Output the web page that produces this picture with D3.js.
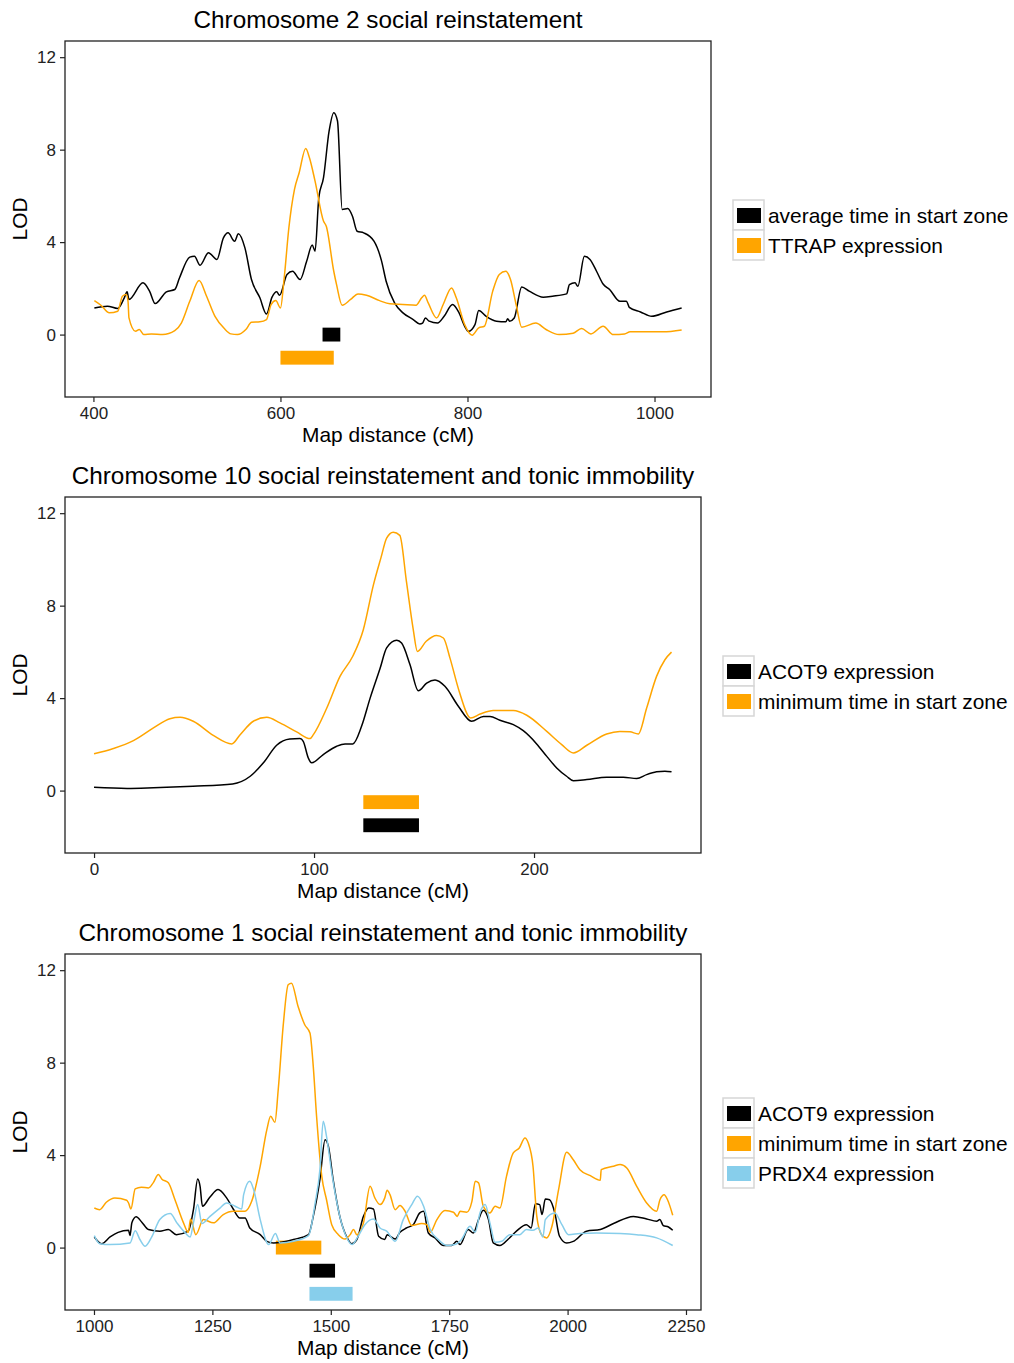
<!DOCTYPE html>
<html>
<head>
<meta charset="utf-8">
<script src="https://d3js.org/d3.v7.min.js"></script>
<style>
  body { margin: 0; background: #fff; }
  svg { display: block; font-family: "Liberation Sans", Arial, sans-serif; }
</style>
</head>
<body>
<div id="chart"></div>
<script>
// Chromosome 2 series: [cM, LOD]
var chr2StartZone = [[401,1.15],[415,1.23],[426,1.13],[433,1.59],[436,1.85],[438,1.52],[453,2.24],[460,1.88],[466,1.34],[478,1.85],[487,1.95],[492,2.45],[503,3.35],[508,3.39],[514,3.0],[523,3.54],[532,3.25],[539,4.18],[544,4.4],[551,4.04],[555,4.36],[562,3.75],[569,2.38],[578,1.59],[585,0.89],[591,1.62],[596,1.85],[599,1.7],[607,2.6],[613,2.74],[621,2.38],[628,3.17],[634,3.87],[637,3.61],[641,5.92],[646,6.78],[652,8.8],[657,9.6],[661,9.24],[666,5.41],[672,5.45],[677,5.12],[682,4.47],[689,4.4],[700,4.04],[708,3.2],[713,2.31],[722,1.37],[731,0.94],[742,0.65],[749,0.46],[752,0.5],[755,0.72],[759,0.58],[768,0.5],[775,0.79],[784,1.3],[791,0.94],[797,0.36],[801,0.14],[808,0.43],[812,1.04],[820,0.79],[831,0.58],[841,0.55],[843,0.69],[845,0.58],[850,0.72],[858,2.06],[866,1.88],[881,1.62],[891,1.66],[906,1.76],[909,2.16],[915,2.24],[918,2.09],[925,3.39],[931,3.25],[938,2.74],[945,2.19],[952,1.95],[963,1.44],[970,1.44],[973,1.18],[985,0.98],[997,0.79],[1013,0.98],[1029,1.15]];
var chr2Ttrap = [[401,1.47],[408,1.27],[417,0.94],[426,1.01],[431,1.66],[435,1.73],[437,1.44],[438,0.72],[445,0.14],[449,0.22],[454,0.0],[462,0.03],[474,0],[487,0.17],[494,0.5],[503,1.44],[513,2.34],[521,1.66],[530,0.79],[540,0.26],[547,0.03],[554,0],[563,0.22],[569,0.53],[578,0.55],[585,0.65],[590,1.3],[595,1.47],[600,1.15],[604,2.45],[609,4.62],[615,6.28],[620,7.0],[627,8.05],[631,7.65],[637,6.64],[646,4.91],[649,4.69],[657,2.74],[660,2.16],[666,1.27],[675,1.52],[683,1.76],[692,1.7],[706,1.47],[717,1.33],[731,1.3],[745,1.27],[751,1.59],[754,1.7],[758,1.37],[767,0.72],[774,1.3],[783,2.02],[788,1.59],[797,0.43],[805,-0.03],[812,0.29],[818,0.36],[827,1.88],[834,2.6],[841,2.74],[846,2.38],[852,1.3],[858,0.32],[873,0.5],[884,0.22],[898,0],[913,0.06],[922,0.26],[932,0.03],[945,0.36],[956,0],[968,0.03],[974,0.12],[1009,0.12],[1029,0.2]];

// Chromosome 10 series
var chr10Acot9 = [[0,0.14],[15,0.09],[27,0.12],[45,0.19],[63,0.29],[71,0.62],[77,1.2],[83,1.96],[89,2.23],[93.6,2.25],[95.1,2.13],[97.4,1.41],[98.9,1.2],[104.2,1.56],[110.3,1.92],[114.1,2.02],[117.6,2.02],[121.6,2.78],[125.5,4.0],[130,5.28],[133,6.17],[137.6,6.5],[139.8,6.38],[143.6,5.45],[147.4,4.32],[151.2,4.65],[155,4.78],[159.5,4.51],[165.6,3.65],[171.6,3.0],[177,3.21],[180,3.21],[184.5,3.04],[190.6,2.85],[195.1,2.59],[201.2,2.02],[205.8,1.48],[210.3,0.98],[214.8,0.62],[217.9,0.43],[224,0.48],[233,0.58],[240.6,0.58],[246.7,0.52],[251.2,0.69],[255.7,0.81],[259.5,0.84],[262.5,0.81]];
var chr10MinTime = [[0,1.59],[8.8,1.82],[17.9,2.16],[27,2.71],[34.5,3.11],[39.1,3.17],[45.1,3.0],[54.2,2.39],[62.6,2.02],[66.4,2.42],[72.4,3.0],[78.5,3.17],[84.5,2.93],[92.1,2.54],[98.2,2.25],[99.7,2.42],[105.8,3.57],[111.8,4.94],[117.6,5.81],[122.4,6.96],[127,8.9],[130.5,10.1],[133,10.92],[136,11.18],[139,11.04],[142,9.05],[145,7.03],[147,6.02],[151,6.46],[155.7,6.71],[158.8,6.6],[161.8,5.73],[166,4.29],[171.2,3.14],[175.5,3.31],[181.5,3.46],[190.6,3.46],[196.7,3.26],[205.8,2.56],[212.6,1.99],[217.9,1.63],[224,1.96],[233,2.45],[239,2.56],[243.6,2.54],[247.4,2.45],[251.2,3.57],[255.7,4.94],[259.5,5.66],[262.5,5.99]];

// Chromosome 1 series
var chr1Acot9 = [[1000.7,0.46],[1016,0.17],[1034,0.46],[1051,0.66],[1073,0.75],[1076,0.52],[1080,1.07],[1089,1.33],[1101,1.1],[1115,0.78],[1139,0.71],[1157,0.78],[1174,0.56],[1199,0.71],[1210,1.64],[1219,2.97],[1224,2.65],[1229,1.79],[1245,2.19],[1262,2.51],[1280,2.15],[1294,1.67],[1308,1.28],[1319,1.28],[1329,0.85],[1351,0.56],[1365,0.27],[1379,0.2],[1421,0.35],[1453,0.56],[1463,1.35],[1477,2.94],[1488,4.67],[1495,4.38],[1505,2.94],[1519,1.35],[1533,0.49],[1544,0.17],[1555,0.35],[1569,1.35],[1580,1.71],[1590,1.67],[1601,0.49],[1614,0.35],[1619,0.56],[1636,0.37],[1646,0.66],[1660,0.85],[1674,0.99],[1688,1.5],[1696,1.57],[1706,0.63],[1720,0.42],[1738,0.09],[1755,0.09],[1766,0.27],[1773,0.13],[1790,0.78],[1801,0.63],[1812,1.21],[1822,1.61],[1833,1.21],[1843,0.2],[1857,0.09],[1875,0.37],[1892,0.71],[1913,0.99],[1923,0.85],[1932,1.9],[1941,1.86],[1946,1.43],[1953,2.1],[1962,2.07],[1973,1.5],[1983,0.49],[1998,0.2],[2012,0.27],[2040,0.71],[2069,0.78],[2097,1.04],[2139,1.35],[2167,1.24],[2188,1.14],[2195,1.21],[2202,0.95],[2213,0.89],[2222,0.75]];
var chr1MinTime = [[1000.7,1.71],[1012,1.64],[1026,1.96],[1044,2.15],[1069,2.05],[1073,1.93],[1078,1.67],[1087,2.54],[1100,2.61],[1115,2.58],[1125,2.8],[1136,3.16],[1143,2.97],[1157,2.8],[1171,2.07],[1189,1.07],[1199,0.66],[1204,1.24],[1215,0.56],[1231,1.21],[1252,1.07],[1273,1.43],[1294,1.57],[1319,1.57],[1333,2.0],[1351,3.52],[1365,5.1],[1373,5.68],[1382,5.42],[1389,6.83],[1400,9.71],[1410,11.37],[1417,11.44],[1431,10.43],[1445,9.64],[1456,9.28],[1463,7.84],[1470,5.68],[1481,3.08],[1491,2.07],[1502,0.99],[1516,0.56],[1530,0.37],[1541,0.56],[1548,0.78],[1555,0.56],[1569,1.07],[1583,2.65],[1593,2.15],[1604,1.86],[1614,2.15],[1619,2.48],[1625,2.29],[1636,1.64],[1646,1.82],[1657,1.57],[1671,0.95],[1692,1.04],[1703,0.99],[1710,0.66],[1724,1.21],[1741,1.6],[1759,1.53],[1767,1.35],[1773,1.57],[1787,1.53],[1798,2.0],[1805,2.87],[1812,2.8],[1822,1.79],[1836,1.5],[1847,1.79],[1857,1.71],[1871,3.08],[1885,4.09],[1898,4.31],[1910,4.74],[1917,4.52],[1927,3.52],[1935,1.35],[1945,0.56],[1956,0.42],[1967,0.92],[1981,2.51],[1998,4.12],[2012,3.8],[2026,3.37],[2048,3.11],[2069,2.91],[2071,3.37],[2097,3.52],[2111,3.59],[2125,3.44],[2146,2.65],[2167,1.93],[2188,1.57],[2195,2.07],[2204,2.29],[2211,2.07],[2222,1.4]];
var chr1Prdx4 = [[1000.7,0.52],[1012,0.17],[1034,0.13],[1076,0.2],[1087,0.73],[1097,0.35],[1108,0.06],[1122,0.46],[1139,1.21],[1161,1.47],[1175,1.07],[1193,0.63],[1203,0.46],[1210,1.07],[1219,1.86],[1228,1.04],[1245,1.35],[1266,1.71],[1280,1.93],[1298,1.79],[1312,1.67],[1316,2.29],[1329,2.87],[1337,2.51],[1351,1.21],[1369,0.13],[1383,0.61],[1393,0.2],[1421,0.27],[1453,0.52],[1467,1.93],[1477,3.37],[1484,5.46],[1491,4.81],[1502,3.23],[1519,1.35],[1533,0.46],[1545,0.13],[1557,0.46],[1572,0.99],[1590,1.24],[1604,0.85],[1618,0.71],[1636,0.27],[1653,1.21],[1671,1.86],[1683,2.22],[1696,1.79],[1710,0.78],[1727,0.35],[1745,0.09],[1762,0.13],[1776,0.35],[1794,0.92],[1805,0.66],[1815,1.5],[1826,1.86],[1836,1.07],[1847,0.23],[1861,0.27],[1878,0.56],[1899,0.56],[1913,0.78],[1927,0.75],[1938,0.85],[1948,0.46],[1953,1.21],[1973,1.5],[1988,0.99],[2002,0.56],[2026,0.61],[2061,0.63],[2111,0.61],[2146,0.56],[2188,0.42],[2222,0.09]];

// QTL interval bars: [start cM, end cM, LOD row, colour]
var chr2Bars = [[645,664,0,"black"],[600,657,-1,"orange"]];
var chr10Bars = [[122.4,147.7,-0.5,"orange"],[122.4,147.7,-1.5,"black"]];
var chr1Bars = [[1384,1480,0,"orange"],[1455,1509,-1,"black"],[1455,1546,-2,"skyblue"]];

var chr2Ticks = [400,600,800,1000];
var chr10Ticks = [0,100,200];
var chr1Ticks = [1000,1250,1500,1750,2000,2250];
var lodTicks = [0,4,8,12];

var chr2Legend = [["average time in start zone","black"],["TTRAP expression","orange"]];
var chr10Legend = [["ACOT9 expression","black"],["minimum time in start zone","orange"]];
var chr1Legend = [["ACOT9 expression","black"],["minimum time in start zone","orange"],["PRDX4 expression","skyblue"]];

function init(){
    var svg = d3.select("#chart")
                .append("svg")
                .attr("width", 1014)
                .attr("height", 1363);

    drawPanel(svg, {
        title: "Chromosome 2 social reinstatement",
        left: 65, right: 711, top: 41, bottom: 397,
        xDomain: [369.6, 1060.4], ticks: chr2Ticks,
        series: [[chr2StartZone,"black"],[chr2Ttrap,"orange"]],
        bars: chr2Bars,
        legend: chr2Legend, legendX: 733, legendY: 200, legendTextX: 768
    });
    drawPanel(svg, {
        title: "Chromosome 10 social reinstatement and tonic immobility",
        left: 65, right: 701, top: 497, bottom: 853,
        xDomain: [-13.2, 275.9], ticks: chr10Ticks,
        series: [[chr10Acot9,"black"],[chr10MinTime,"orange"]],
        bars: chr10Bars,
        legend: chr10Legend, legendX: 723, legendY: 656, legendTextX: 758
    });
    drawPanel(svg, {
        title: "Chromosome 1 social reinstatement and tonic immobility",
        left: 65, right: 701, top: 954, bottom: 1310,
        xDomain: [938.8, 2281.7], ticks: chr1Ticks,
        series: [[chr1Acot9,"black"],[chr1MinTime,"orange"],[chr1Prdx4,"skyblue"]],
        bars: chr1Bars,
        legend: chr1Legend, legendX: 723, legendY: 1098, legendTextX: 758
    });
}

function drawPanel(svg, p) {
    var x = d3.scaleLinear().domain(p.xDomain).range([p.left, p.right]);
    var y = d3.scaleLinear().domain([-2.7, 12.7]).range([p.bottom, p.top]);

    var g = svg.append("g");

    // interval bars
    g.selectAll("rect.bar")
        .data(p.bars)
        .enter()
        .append("rect")
        .attr("x", function(d) { return x(d[0]); })
        .attr("width", function(d) { return x(d[1]) - x(d[0]); })
        .attr("y", function(d) { return y(d[2] + 0.3); })
        .attr("height", function(d) { return y(d[2] - 0.3) - y(d[2] + 0.3); })
        .attr("fill", function(d) { return d[3]; });

    var line = d3.line()
        .x(function(d) { return x(d[0]); })
        .y(function(d) { return y(d[1]); })
        .curve(d3.curveMonotoneX);

    g.selectAll("path.lod")
        .data(p.series)
        .enter()
        .append("path")
        .attr("d", function(d) { return line(d[0]); })
        .attr("fill", "none")
        .attr("stroke", function(d) { return d[1]; })
        .attr("stroke-width", 1.5)
        .attr("stroke-linejoin", "round");

    // frame
    g.append("rect")
        .attr("x", p.left).attr("y", p.top)
        .attr("width", p.right - p.left).attr("height", p.bottom - p.top)
        .attr("fill", "none").attr("stroke", "#222").attr("stroke-width", 1.3);

    // axes
    var xAxis = d3.axisBottom(x).tickValues(p.ticks).tickFormat(d3.format("d"))
        .tickSize(5).tickPadding(5).tickSizeOuter(0);
    var gx = g.append("g").attr("transform", "translate(0," + p.bottom + ")").call(xAxis);
    var yAxis = d3.axisLeft(y).tickValues(lodTicks).tickFormat(d3.format("d"))
        .tickSize(5).tickPadding(4).tickSizeOuter(0);
    var gy = g.append("g").attr("transform", "translate(" + p.left + ",0)").call(yAxis);
    [gx, gy].forEach(function(a) {
        a.select(".domain").remove();
        a.selectAll("line").attr("stroke", "#222").attr("stroke-width", 1.2);
        a.selectAll("text").attr("fill", "#222").style("font-size", "17px")
            .style("font-family", "Liberation Sans, Arial, sans-serif");
    });

    var cx = (p.left + p.right) / 2;
    g.append("text")
        .attr("x", cx).attr("y", p.top - 13)
        .attr("text-anchor", "middle")
        .style("font-size", "24.3px")
        .text(p.title);
    g.append("text")
        .attr("x", cx).attr("y", p.bottom + 45)
        .attr("text-anchor", "middle")
        .style("font-size", "20.9px")
        .text("Map distance (cM)");
    g.append("text")
        .attr("transform", "translate(27," + ((p.top + p.bottom) / 2) + ") rotate(-90)")
        .attr("text-anchor", "middle")
        .style("font-size", "20.9px")
        .text("LOD");

    // legend
    var items = g.append("g").selectAll("g.item")
        .data(p.legend)
        .enter()
        .append("g")
        .attr("transform", function(d, i) { return "translate(" + p.legendX + "," + (p.legendY + i * 30) + ")"; });
    items.append("rect")
        .attr("x", 0).attr("y", 0).attr("width", 31).attr("height", 30)
        .attr("fill", "#fff").attr("stroke", "#d6d6d6").attr("stroke-width", 1.5);
    items.append("rect")
        .attr("x", 4).attr("y", 8).attr("width", 24).attr("height", 15)
        .attr("fill", function(d) { return d[1]; });
    items.append("text")
        .attr("x", p.legendTextX - p.legendX).attr("y", 22.5)
        .style("font-size", "20.9px")
        .text(function(d) { return d[0]; });
}

window.onload = init;
</script>
</body>
</html>
